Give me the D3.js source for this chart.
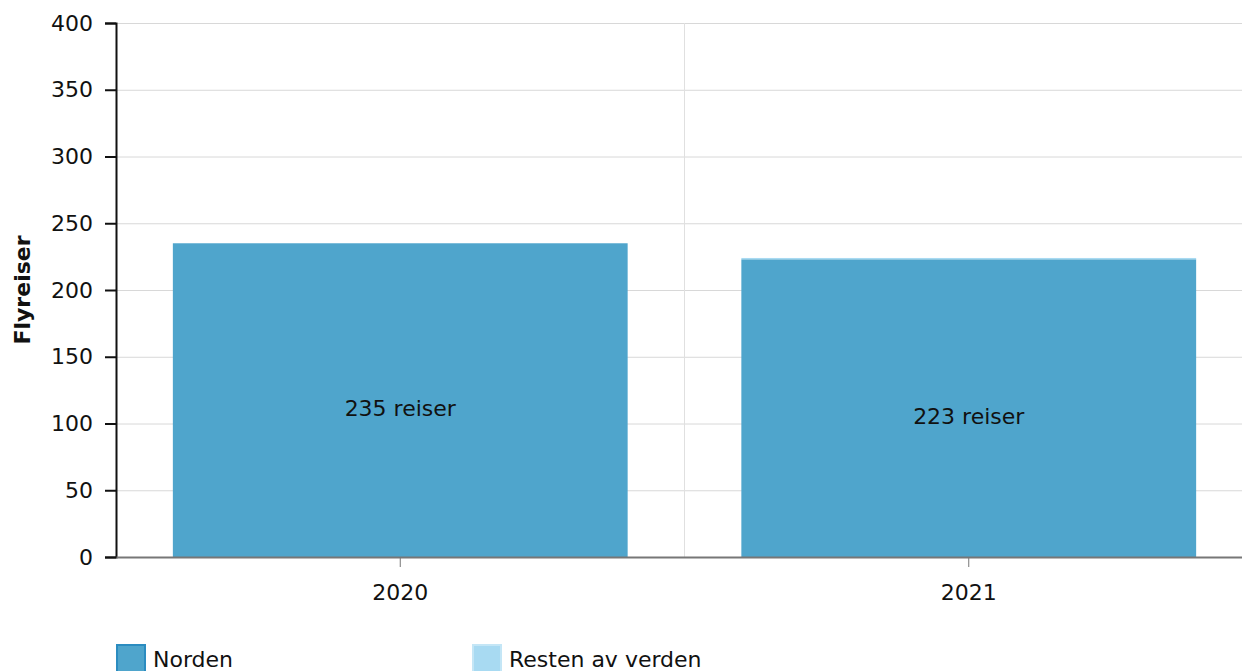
<!DOCTYPE html>
<html>
<head>
<meta charset="utf-8">
<script src="https://cdn.jsdelivr.net/npm/d3@7"></script>
<style>
  body { margin: 0; background: #fff; }
  svg { display: block; font-family: "DejaVu Sans", Verdana, sans-serif; }
</style>
</head>
<body>
<svg id="chart" width="1242" height="671"></svg>
<script>
var years = ["2020", "2021"];
var norden = [235, 223];
var restenAvVerden = [0, 1];
var yTicks = [0, 50, 100, 150, 200, 250, 300, 350, 400];
var seriesNames = ["Norden", "Resten av verden"];
var colors = ["#4fa5cc", "#a8daf2"];
var strokeColors = ["#2b8cc0", "#c4e6f6"];

var FONT = "DejaVu Sans, Verdana, sans-serif";
var svg = d3.select("#chart");
var margin = { left: 116, top: 23, right: 1253, bottom: 557 };

var x = d3.scaleBand()
    .domain(years)
    .range([margin.left, margin.right])
    .paddingInner(0.2)
    .paddingOuter(0.1);

var y = d3.scaleLinear()
    .domain([0, 400])
    .range([margin.bottom, margin.top]);

// horizontal grid
svg.append("g")
  .selectAll("line")
  .data(yTicks)
  .enter().append("line")
    .attr("x1", margin.left).attr("x2", margin.right)
    .attr("y1", d => y(d) + 0.5).attr("y2", d => y(d) + 0.5)
    .attr("stroke", "#d8d8d8").attr("stroke-width", 1);

// vertical grid between categories
svg.append("line")
    .attr("x1", x("2021") - x.step() * x.paddingInner() / 2)
    .attr("x2", x("2021") - x.step() * x.paddingInner() / 2)
    .attr("y1", margin.top).attr("y2", margin.bottom)
    .attr("stroke", "#e0e0e0").attr("stroke-width", 1);

var stackData = years.map((yr, i) => ({ year: yr, Norden: norden[i], "Resten av verden": restenAvVerden[i] }));
var stacked = d3.stack().keys(seriesNames)(stackData);

svg.append("g")
  .selectAll("g")
  .data(stacked)
  .enter().append("g")
    .attr("fill", (d, i) => colors[i])
  .selectAll("rect")
  .data(d => d)
  .enter().append("rect")
    .attr("x", d => x(d.data.year))
    .attr("width", x.bandwidth())
    .attr("y", d => y(d[1]))
    .attr("height", d => y(d[0]) - y(d[1]));

// labels inside bars
svg.append("g")
  .selectAll("text")
  .data(stackData)
  .enter().append("text")
    .attr("x", d => x(d.year) + x.bandwidth() / 2)
    .attr("y", d => y(d.Norden / 2) + 16)
    .attr("text-anchor", "middle")
    .attr("font-family", FONT)
    .attr("font-size", 22)
    .attr("fill", "#111")
    .text(d => d.Norden + " reiser");

// y axis
var yAxis = svg.append("g")
    .attr("transform", "translate(" + margin.left + ",0)")
    .call(d3.axisLeft(y).tickValues(yTicks).tickSize(11).tickPadding(12));
yAxis.select(".domain").attr("stroke", "#111").attr("stroke-width", 2);
yAxis.selectAll(".tick line").attr("stroke", "#111").attr("stroke-width", 2);
yAxis.selectAll("text").attr("font-size", 22).attr("fill", "#111")
    .attr("font-family", FONT);

// x axis
var xAxis = svg.append("g")
    .attr("transform", "translate(0," + margin.bottom + ")")
    .call(d3.axisBottom(x).tickSizeOuter(0).tickSizeInner(10).tickPadding(17));
xAxis.select(".domain").attr("stroke", "#777").attr("stroke-width", 2);
xAxis.selectAll(".tick line").attr("stroke", "#777").attr("stroke-width", 1);
xAxis.selectAll("text").attr("font-size", 22).attr("fill", "#111")
    .attr("font-family", FONT);

// y title
svg.append("text")
    .attr("transform", "translate(30," + (margin.top + margin.bottom) / 2 + ") rotate(-90)")
    .attr("text-anchor", "middle")
    .attr("font-family", FONT)
    .attr("font-size", 22)
    .attr("font-weight", "bold")
    .attr("fill", "#111")
    .text("Flyreiser");

// legend
var legend = svg.append("g")
  .selectAll("g")
  .data(seriesNames)
  .enter().append("g")
    .attr("transform", (d, i) => "translate(" + (117 + i * 356) + ",645)");
legend.append("rect")
    .attr("width", 28).attr("height", 28)
    .attr("fill", (d, i) => colors[i])
    .attr("stroke", (d, i) => strokeColors[i])
    .attr("stroke-width", 2);
legend.append("text")
    .attr("x", 36).attr("y", 22)
    .attr("font-family", FONT)
    .attr("font-size", 22)
    .attr("fill", "#111")
    .text(d => d);
</script>
</body>
</html>
